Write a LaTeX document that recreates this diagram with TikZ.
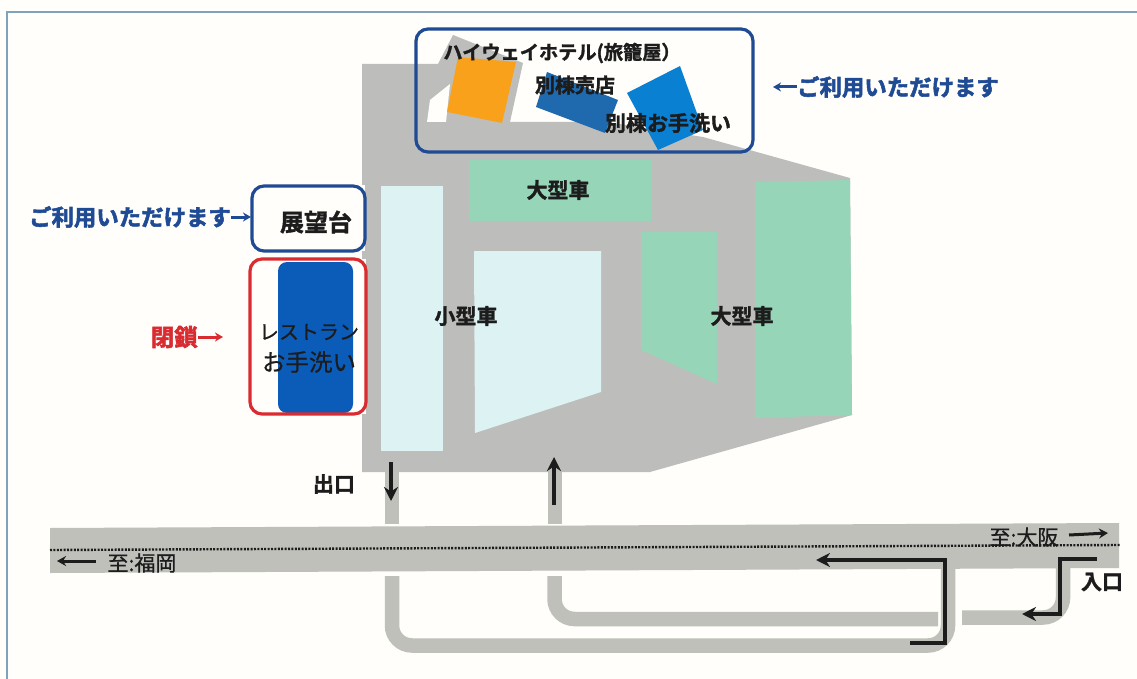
\documentclass[tikz,border=0pt]{standalone}
\usepackage{fontspec}
\setmainfont{Noto Sans CJK JP}[BoldFont={Noto Sans CJK JP Bold},BoldFeatures={FakeBold=1.6}]
\newfontfamily\semi{Noto Sans CJK JP}[FakeBold=0.7]
\newfontfamily\heavy{Noto Sans CJK JP Bold}[FakeBold=2.4]
\usetikzlibrary{arrows.meta}
\definecolor{paper}{HTML}{FFFEFA}
\definecolor{lot}{HTML}{BDBEBB}
\definecolor{road}{HTML}{BFC0BA}
\definecolor{frame}{HTML}{7FA3BC}
\definecolor{navy}{HTML}{1F4A94}
\definecolor{redc}{HTML}{D92B30}
\definecolor{green}{HTML}{97D5B8}
\definecolor{pale}{HTML}{DDF2F3}
\definecolor{orange}{HTML}{F9A11B}
\definecolor{steel}{HTML}{1F69AE}
\definecolor{azure}{HTML}{0A80D2}
\definecolor{royal}{HTML}{0B5CB8}
\definecolor{ink}{HTML}{1C1C1C}
\newcommand{\fs}[1]{\fontsize{#1}{#1}\selectfont}
\tikzset{
  x=1pt,y=-1pt,
  ramp/.style={draw=road,line width=14.5pt,rounded corners=20pt},
  callout/.style={rounded corners=12pt,line width=3.2pt,fill=none},
  lab/.style={font=\fs{21}\bfseries,text=ink,inner sep=0pt},
  lab2/.style={font=\fs{21}\semi,text=ink,inner sep=0pt},
  note/.style={font=\fs{22.4}\heavy,text=navy,inner sep=0pt},
  flow/.style={draw=ink,line width=3.4pt,-{Stealth[length=14pt,width=14pt]}},
  flowthin/.style={draw=ink,line width=3pt,-{Stealth[length=9pt,width=10pt]}},
  notearrow/.style={line width=3pt,-{Stealth[length=8pt,width=9pt]}},
}
\begin{document}
\begin{tikzpicture}
\useasboundingbox (0,0) rectangle (1137,679);
\fill[paper] (0,0) rectangle (1137,679);
\draw[frame,line width=2pt] (7,679) -- (7,12) -- (1137,12);
% lot
\fill[lot] (362,64) -- (438,64) -- (453,35) -- (523,63) -- (510,122) -- (607,122) -- (703,137) -- (850,178) -- (852,415) -- (650,472) -- (362,472) -- cycle;
\fill[paper] (427,122) -- (430,100) -- (450,84) -- (446,122) -- cycle;
% bays
\fill[pale] (381,186) rectangle (443,451);
\fill[pale] (474,251) -- (601,251) -- (601,392) -- (475,433) -- cycle;
\fill[green] (469,160) rectangle (651,221);
\fill[green] (641,232) -- (717,232) -- (717,384) -- (641,350) -- cycle;
\fill[green] (755,182) -- (850,180) -- (852,415) -- (755,418) -- cycle;
% buildings
\fill[orange] (458,57) -- (516,62) -- (502,123) -- (447,112) -- cycle;
\fill[steel] (547,72) -- (618,100) -- (605,133) -- (536,107) -- cycle;
\fill[azure] (627,93) -- (680,66) -- (703,130) -- (658,150) -- cycle;
% roads
\fill[road] (50,528) -- (1119,523) -- (1119,568) -- (50,573) -- cycle;
\coordinate (exitTop) at (392,472);
\coordinate (exitRoad) at (392,524);
\coordinate (entryTop) at (554.5,472);
\coordinate (entryRoad) at (554.5,524);
\draw[road,line width=14pt] (exitTop) -- (exitRoad);
\draw[road,line width=14pt] (entryTop) -- (entryRoad);
\draw[ramp] (392,576) -- (392,645.5) -- (948,645.5) -- (948,566);
\draw[ramp] (554.5,576) -- (554.5,619) -- (938,619);
\draw[ramp] (962,617.5) -- (1063,617.5) -- (1063,566);
\draw[ink,line width=2.4pt,dash pattern=on 2pt off 1.4pt] (50,550) -- (1120,545);
% callouts
\fill[paper] (252,185) rectangle (365,251);
\fill[paper] (250,259) rectangle (366,414);
\fill[royal,rounded corners=9pt] (278,262) rectangle (353,413);
\draw[callout,draw=navy] (416,29) rectangle (753,152);
\draw[callout,draw=navy] (252,186) rectangle (365,251);
\draw[callout,draw=redc] (250,259) rectangle (366,414);
% labels
\node[lab,font=\fs{19.2}\bfseries] (hotel) at (562,53) {ハイウェイホテル(旅籠屋）};
\node[lab,font=\fs{20}\bfseries] (shop) at (575,85) {別棟売店};
\node[lab] (wc) at (668,123) {別棟お手洗い};
\node[lab] (bus1) at (558,190) {大型車};
\node[lab] (bus2) at (742,316) {大型車};
\node[lab] (car) at (466,316) {小型車};
\node[lab,font=\fs{24}\bfseries] (view) at (316,222) {展望台};
\node[lab2,font=\fs{20}\semi] (rest) at (309,332) {レストラン};
\node[lab2,font=\fs{23.5}\semi] (restwc) at (309,362) {お手洗い};
\node[lab] (outl) at (334,484) {出口};
\node[lab] (inl) at (1102,582) {入口};
\node[lab2] (fuk) at (142,563) {至:福岡};
\node[lab2] (osa) at (1024,537) {至:大阪};
\node[note,anchor=west] (n1) at (797,87) {ご利用いただけます};
\node[note,anchor=east] (n2) at (231,217) {ご利用いただけます};
\node[note,text=redc,anchor=east,font=\fs{23.5}\heavy] (n3) at (198,337) {閉鎖};
% note arrows
\draw[navy,notearrow] (n1.west) -- ++(-24,0);
\draw[navy,notearrow] (n2.east) -- ++(20,0);
\draw[redc,notearrow] (n3.east) -- ++(25,0);
% flow arrows
\draw[flow] (391,462) -- (391,501);
\draw[flow] (554,505) -- (554,457);
\draw[flow] (1097,559) -- (1060,559) -- (1060,614) -- (1022,614);
\draw[flow] (910,643) -- (945,643) -- (945,560) -- (816,560);
\draw[flowthin] (1069,535) -- (1108,533);
\draw[flowthin] (96,561) -- (57,561);
\end{tikzpicture}
\end{document}
